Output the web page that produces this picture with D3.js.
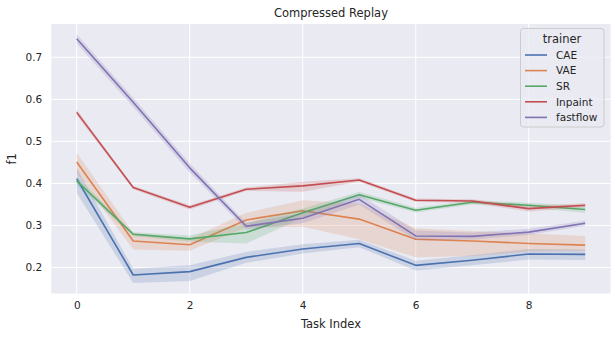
<!DOCTYPE html>
<html><head><meta charset="utf-8">
<script src="https://cdn.jsdelivr.net/npm/d3@7"></script>
<style>body{margin:0;background:#fff}svg{display:block;font-family:"DejaVu Sans",sans-serif}</style>
</head><body><svg id="c" width="616" height="338"></svg>
<script>
const taskIndex = [0,1,2,3,4,5,6,7,8,9];
const trainers = ["CAE","VAE","SR","Inpaint","fastflow"];
const colors = ["#4c72b0","#dd8452","#55a868","#c44e52","#8172b3"];
const xTicks = [0,2,4,6,8];
const yTicks = [0.2,0.3,0.4,0.5,0.6,0.7];

const caeMean = [0.411,0.182,0.190,0.224,0.244,0.257,0.205,0.217,0.232,0.231];
const caeLo   = [0.377,0.163,0.168,0.211,0.233,0.248,0.193,0.205,0.219,0.218];
const caeHi   = [0.436,0.197,0.205,0.237,0.255,0.266,0.216,0.229,0.244,0.243];

const vaeMean = [0.451,0.263,0.254,0.313,0.335,0.315,0.267,0.263,0.257,0.253];
const vaeLo   = [0.424,0.243,0.240,0.295,0.297,0.267,0.224,0.227,0.238,0.240];
const vaeHi   = [0.473,0.282,0.269,0.330,0.360,0.352,0.293,0.287,0.281,0.275];

const srMean = [0.406,0.279,0.268,0.283,0.330,0.373,0.336,0.355,0.348,0.338];
const srLo   = [0.396,0.274,0.261,0.257,0.318,0.366,0.331,0.350,0.342,0.330];
const srHi   = [0.416,0.284,0.276,0.305,0.340,0.380,0.342,0.360,0.354,0.346];

const inpMean = [0.569,0.390,0.343,0.386,0.394,0.408,0.360,0.358,0.340,0.348];
const inpLo   = [0.562,0.386,0.338,0.382,0.380,0.404,0.356,0.354,0.333,0.343];
const inpHi   = [0.576,0.394,0.348,0.390,0.404,0.412,0.364,0.362,0.346,0.353];

const ffMean = [0.744,0.593,0.437,0.298,0.317,0.362,0.275,0.274,0.284,0.305];
const ffLo   = [0.733,0.582,0.426,0.290,0.305,0.350,0.265,0.266,0.277,0.299];
const ffHi   = [0.755,0.604,0.448,0.306,0.329,0.374,0.288,0.283,0.292,0.311];

const seriesMean = [caeMean,vaeMean,srMean,inpMean,ffMean];
const seriesLo = [caeLo,vaeLo,srLo,inpLo,ffLo];
const seriesHi = [caeHi,vaeHi,srHi,inpHi,ffHi];

const svg = d3.select("#c");
const L=51.3, R=610.6, T=24, B=293.5;
const x = d3.scaleLinear().domain([-0.45,9.45]).range([L,R]);
const y = d3.scaleLinear().domain([0.138,0.7793]).range([B,T]);
const txt = "#262626";

svg.append("rect").attr("x",L).attr("y",T).attr("width",R-L).attr("height",B-T).attr("fill","#eaeaf2");

// grid
svg.append("g").selectAll("line").data(xTicks).join("line")
  .attr("x1",d=>x(d)).attr("x2",d=>x(d)).attr("y1",T).attr("y2",B)
  .attr("stroke","#fff").attr("stroke-width",1);
svg.append("g").selectAll("line").data(yTicks).join("line")
  .attr("x1",L).attr("x2",R).attr("y1",d=>y(d)).attr("y2",d=>y(d))
  .attr("stroke","#fff").attr("stroke-width",1);

// axes
const xa = svg.append("g").attr("transform",`translate(0,${B})`)
  .call(d3.axisBottom(x).tickValues(xTicks).tickSize(0).tickPadding(8).tickFormat(d3.format("d")));
const ya = svg.append("g").attr("transform",`translate(${L},0)`)
  .call(d3.axisLeft(y).tickValues(yTicks).tickSize(0).tickPadding(9).tickFormat(d3.format(".1f")));
[xa,ya].forEach(a=>{a.select(".domain").remove();
  a.selectAll("text").attr("fill",txt).style("font-size","10.5px").style("font-family","DejaVu Sans");});

// series
const area = d3.area().x(d=>x(d.x)).y0(d=>y(d.lo)).y1(d=>y(d.hi));
const line = d3.line().x(d=>x(d.x)).y(d=>y(d.m));
trainers.forEach((t,i)=>{
  const pts = taskIndex.map((xi,j)=>({x:xi,m:seriesMean[i][j],lo:seriesLo[i][j],hi:seriesHi[i][j]}));
  svg.append("path").datum(pts).attr("d",line).attr("fill","none")
    .attr("stroke",colors[i]).attr("stroke-width",1.6).attr("stroke-linejoin","round");
  svg.append("path").datum(pts).attr("d",area).attr("fill",colors[i]).attr("fill-opacity",0.2);
});

// titles
svg.append("text").attr("x",(L+R)/2).attr("y",17).attr("text-anchor","middle")
  .attr("fill",txt).style("font-size","11.5px").text("Compressed Replay");
svg.append("text").attr("x",(L+R)/2).attr("y",328).attr("text-anchor","middle")
  .attr("fill",txt).style("font-size","11.5px").text("Task Index");
svg.append("text").attr("transform",`translate(16,${(T+B)/2}) rotate(-90)`).attr("text-anchor","middle")
  .attr("fill",txt).style("font-size","11.5px").text("f1");

// legend
const lg = svg.append("g");
lg.append("rect").attr("x",520.5).attr("y",28.5).attr("width",83.5).attr("height",98.5).attr("rx",3)
  .attr("fill","#eaeaf2").attr("fill-opacity",0.8).attr("stroke","#cccccc").attr("stroke-width",1);
lg.append("text").attr("x",562).attr("y",43).attr("text-anchor","middle").attr("fill",txt)
  .style("font-size","11.5px").text("trainer");
trainers.forEach((t,i)=>{
  const yy = 55 + i*15.6;
  lg.append("line").attr("x1",525).attr("x2",547).attr("y1",yy).attr("y2",yy)
    .attr("stroke",colors[i]).attr("stroke-width",1.6);
  lg.append("text").attr("x",556).attr("y",yy+3.8).attr("fill",txt).style("font-size","10.5px").text(t);
});
</script></body></html>
